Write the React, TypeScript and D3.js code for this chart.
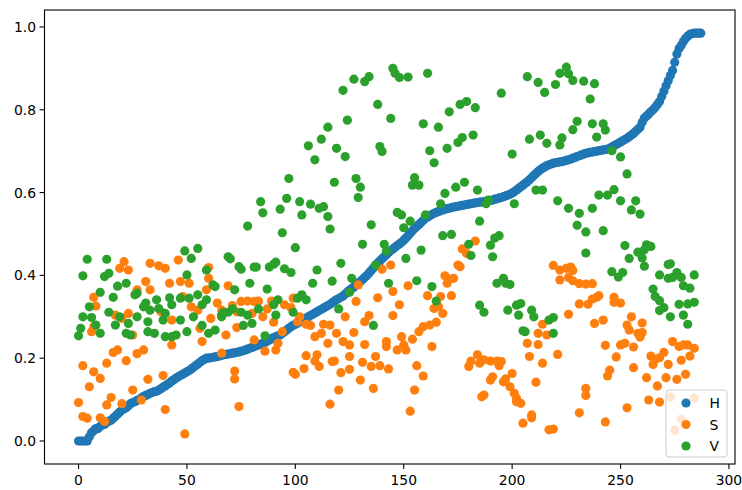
import React from "react";
import * as d3 from "d3";

// H value per sample index (0..287)
const hValues: number[] = [
  0, 0, 0, 0, 0, 0.01, 0.02, 0.025, 0.03, 0.03,
  0.035, 0.04, 0.04, 0.045, 0.048, 0.05, 0.055, 0.06, 0.065, 0.07,
  0.075, 0.078, 0.08, 0.085, 0.09, 0.093, 0.095, 0.098, 0.1, 0.104,
  0.108, 0.11, 0.112, 0.115, 0.117, 0.119, 0.12, 0.123, 0.126, 0.13,
  0.133, 0.137, 0.14, 0.145, 0.148, 0.152, 0.155, 0.158, 0.161, 0.164,
  0.167, 0.17, 0.174, 0.178, 0.182, 0.186, 0.19, 0.194, 0.197, 0.2,
  0.2, 0.201, 0.202, 0.203, 0.204, 0.205, 0.207, 0.208, 0.209, 0.21,
  0.211, 0.212, 0.213, 0.214, 0.215, 0.217, 0.218, 0.22, 0.222, 0.224,
  0.226, 0.228, 0.23, 0.232, 0.234, 0.236, 0.238, 0.241, 0.244, 0.247,
  0.25, 0.252, 0.254, 0.256, 0.26, 0.264, 0.268, 0.272, 0.276, 0.279,
  0.282, 0.285, 0.288, 0.291, 0.294, 0.297, 0.3, 0.303, 0.306, 0.309,
  0.312, 0.315, 0.318, 0.321, 0.324, 0.327, 0.33, 0.334, 0.338, 0.341,
  0.344, 0.347, 0.35, 0.355, 0.36, 0.364, 0.368, 0.372, 0.376, 0.38,
  0.385, 0.39, 0.395, 0.4, 0.406, 0.412, 0.418, 0.424, 0.43, 0.435,
  0.44, 0.445, 0.45, 0.455, 0.46, 0.464, 0.468, 0.472, 0.476, 0.48,
  0.485, 0.49, 0.496, 0.502, 0.508, 0.513, 0.518, 0.523, 0.528, 0.533,
  0.538, 0.541, 0.544, 0.547, 0.55, 0.552, 0.554, 0.556, 0.558, 0.56,
  0.561, 0.562, 0.564, 0.565, 0.566, 0.567, 0.568, 0.569, 0.57, 0.571,
  0.572, 0.573, 0.574, 0.575, 0.576, 0.577, 0.577, 0.578, 0.579, 0.58,
  0.581, 0.582, 0.584, 0.585, 0.587, 0.588, 0.59, 0.592, 0.594, 0.596,
  0.599, 0.602, 0.606, 0.61, 0.614, 0.618, 0.622, 0.626, 0.631, 0.636,
  0.641, 0.646, 0.651, 0.655, 0.659, 0.662, 0.665, 0.667, 0.669, 0.671,
  0.672, 0.673, 0.674, 0.675, 0.676, 0.678, 0.679, 0.681, 0.683, 0.685,
  0.687, 0.689, 0.691, 0.693, 0.695, 0.696, 0.697, 0.698, 0.699, 0.7,
  0.701, 0.702, 0.703, 0.704, 0.705, 0.707, 0.71, 0.713, 0.716, 0.719,
  0.722, 0.725, 0.728, 0.731, 0.735, 0.739, 0.743, 0.748, 0.753, 0.758,
  0.77, 0.78, 0.785, 0.79, 0.795, 0.8, 0.806, 0.813, 0.82, 0.832,
  0.845, 0.858, 0.87, 0.883, 0.895, 0.915, 0.935, 0.948, 0.955, 0.965,
  0.972, 0.978, 0.982, 0.984, 0.985, 0.985, 0.985, 0.985,
];

// S points: [sample index, value]
const sPoints: [number, number][] = [
  [21, .433], [19, .417], [23, .413], [33, .429], [37, .423], [40, .417], [46, .437], [60, .419], [60, .393], [31, .385],
  [33, .365], [42, .381], [47, .385], [51, .381], [59, .365], [7, .347], [8, .326], [27, .365], [48, .349], [52, .324],
  [55, .316], [64, .333], [66, .316], [61, .296], [23, .308], [17, .304], [20, .296], [43, .292], [38, .312], [6, .264],
  [7, .276], [25, .256], [43, .232], [57, .240], [56, .272], [16, .214], [18, .220], [27, .211], [30, .220], [22, .194],
  [13, .188], [2, .182], [7, .167], [10, .151], [5, .131], [32, .149], [39, .158], [25, .123], [15, .105], [13, .087],
  [20, .090], [29, .099], [0, .093], [2, .059], [4, .055], [10, .056], [12, .047], [40, .076], [49, .017], [66, .212],
  [69, .375], [71, .327], [75, .337], [78, .338], [81, .337], [83, .338], [89, .338], [95, .329], [87, .319], [80, .308],
  [73, .312], [85, .300], [90, .287], [98, .322], [99, .345], [102, .300], [101, .288], [105, .282], [107, .279], [113, .282],
  [116, .280], [109, .252], [112, .260], [115, .236], [119, .260], [122, .240], [125, .232], [127, .262], [128, .337], [129, .377],
  [138, .346], [132, .288], [134, .303], [123, .300], [140, .415], [145, .303], [142, .240], [142, .228], [132, .233], [68, .256],
  [73, .274], [81, .244], [86, .217], [91, .220], [92, .236], [94, .264], [105, .206], [110, .208], [109, .193], [111, .180],
  [104, .175], [99, .166], [100, .161], [117, .192], [118, .193], [125, .204], [121, .165], [125, .173], [130, .147], [131, .190],
  [135, .180], [137, .204], [139, .182], [143, .174], [136, .127], [120, .123], [116, .089], [72, .169], [72, .150], [74, .083],
  [183, .483], [177, .464], [179, .453], [175, .425], [176, .421], [144, .425], [169, .399], [171, .391], [173, .393], [170, .381],
  [152, .375], [145, .361], [161, .351], [167, .349], [172, .351], [164, .320], [166, .325], [168, .308], [148, .329], [165, .287],
  [162, .280], [159, .276], [157, .264], [154, .246], [149, .252], [150, .232], [151, .220], [147, .220], [163, .228], [156, .182],
  [159, .157], [155, .123], [153, .072], [180, .180], [181, .193], [184, .208], [185, .188], [187, .196], [190, .193], [193, .193],
  [195, .192], [194, .182], [191, .155], [190, .147], [187, .111], [186, .107], [197, .150], [196, .143], [200, .163], [199, .131],
  [201, .115], [202, .103], [204, .091], [202, .095], [209, .063], [209, .056], [205, .043], [217, .027], [219, .029], [211, .142],
  [214, .188], [208, .204], [207, .236], [212, .233], [212, .260], [216, .256], [214, .282], [221, .209], [219, .424], [222, .413],
  [222, .389], [225, .417], [227, .420], [228, .412], [226, .395], [228, .387], [231, .380], [234, .379], [237, .380], [231, .331],
  [235, .330], [237, .343], [240, .351], [239, .347], [247, .347], [247, .335], [250, .333], [226, .306], [238, .284], [242, .292],
  [253, .280], [255, .300], [260, .285], [254, .268], [258, .260], [260, .262], [259, .251], [243, .231], [250, .232], [252, .236],
  [256, .227], [248, .203], [256, .177], [245, .171], [244, .157], [262, .153], [264, .205], [266, .197], [265, .185], [268, .201],
  [270, .214], [272, .185], [274, .240], [277, .228], [279, .232], [281, .232], [284, .224], [282, .205], [278, .195], [276, .149],
  [271, .153], [280, .161], [267, .133], [234, .127], [234, .110], [253, .080], [263, .099], [268, .094], [273, .106], [278, .053],
  [275, .026], [231, .068], [243, .046], [284, .104],
];

// V points: [sample index, value]
const vPoints: [number, number][] = [
  [4, .439], [13, .439], [2, .399], [12, .397], [14, .405], [18, .374], [22, .381], [10, .359], [16, .347], [5, .324],
  [2, .300], [1, .272], [0, .254], [6, .298], [8, .280], [10, .260], [14, .311], [17, .280], [19, .300], [22, .260],
  [24, .256], [23, .284], [26, .353], [27, .357], [27, .300], [30, .324], [31, .333], [33, .316], [36, .341], [37, .320],
  [40, .308], [39, .292], [42, .346], [43, .329], [32, .288], [32, .264], [35, .260], [40, .252], [43, .252], [45, .256],
  [47, .292], [47, .345], [51, .345], [50, .264], [55, .353], [57, .329], [59, .341], [53, .300], [57, .279], [60, .260],
  [63, .268], [66, .304], [62, .377], [63, .373], [59, .413], [50, .401], [52, .441], [49, .459], [55, .465],
  [94, .503], [69, .445], [70, .440], [74, .421], [75, .415], [81, .420], [82, .420], [88, .420], [90, .427], [91, .432],
  [95, .416], [98, .407], [100, .467], [110, .413], [121, .429], [131, .475], [141, .475], [142, .459], [137, .425], [72, .365],
  [79, .381], [87, .367], [108, .381], [117, .386], [126, .393], [125, .359], [143, .381], [83, .319], [92, .341], [90, .329],
  [99, .311], [103, .353], [101, .345], [105, .341], [67, .311], [66, .300], [69, .311], [71, .319], [75, .311], [78, .304],
  [76, .279], [80, .284], [91, .304], [86, .254], [120, .319], [136, .279],
  [78, .519], [85, .551], [84, .578], [93, .560], [96, .586], [102, .578], [103, .546], [107, .572], [111, .562], [113, .566],
  [115, .542], [116, .512], [97, .634], [109, .679], [106, .713], [112, .729], [115, .758], [119, .707], [123, .687], [118, .625],
  [128, .634], [130, .613], [129, .588], [135, .522], [124, .775], [122, .847], [127, .874], [132, .868], [134, .880], [138, .813],
  [144, .779], [139, .711], [140, .699],
  [145, .900], [146, .888], [148, .878], [152, .879], [161, .888], [159, .766], [166, .758], [171, .795], [176, .813], [179, .820],
  [183, .805], [182, .739], [177, .733], [175, .721], [170, .707], [162, .701], [164, .672], [155, .636], [154, .618], [157, .618],
  [169, .598], [174, .613], [178, .625], [184, .606], [189, .582], [188, .573], [167, .573], [160, .546], [147, .552], [149, .546],
  [153, .531], [150, .515], [185, .531], [207, .880], [212, .866], [215, .842], [220, .861], [222, .888], [195, .840], [200, .693],
  [208, .729], [213, .739], [216, .719], [222, .715], [211, .606], [214, .606], [221, .580], [201, .573], [168, .496], [172, .499],
  [194, .496], [192, .490],
  [180, .475], [181, .448], [190, .473], [191, .445], [158, .461], [151, .441], [156, .387], [163, .373], [165, .338], [193, .381],
  [197, .381], [196, .393], [199, .378], [185, .328], [187, .311], [198, .316], [202, .328], [204, .332], [203, .304], [209, .316],
  [210, .300], [217, .292], [219, .298], [219, .260], [205, .266], [206, .264],
  [225, .903], [226, .887], [228, .871], [233, .869], [238, .863], [236, .826], [230, .772], [228, .752], [223, .732], [237, .766],
  [242, .766], [243, .751], [239, .734], [246, .701], [250, .686], [253, .645], [226, .562], [231, .550], [237, .562], [240, .594],
  [244, .594], [247, .607], [250, .580], [257, .580], [255, .558], [259, .548], [230, .521], [234, .505], [242, .508],
  [234, .454], [252, .472], [254, .441], [258, .456], [261, .462], [262, .474], [264, .470], [260, .442], [261, .422], [246, .409],
  [249, .396], [251, .407], [268, .401], [272, .426], [273, .428], [272, .393], [274, .395], [276, .407], [278, .395], [279, .375],
  [282, .369], [284, .401], [265, .367], [266, .349], [268, .339], [268, .315], [270, .322], [273, .300], [277, .330], [279, .304],
  [281, .282], [281, .331], [284, .335],
];

const xTicks = [0, 50, 100, 150, 200, 250, 300];
const yTicks = [0.0, 0.2, 0.4, 0.6, 0.8, 1.0];
const seriesNames = ["H", "S", "V"];
const seriesColors = ["#1f77b4", "#ff7f0e", "#2ca02c"];

const W = 742;
const H = 490;
const left = 44.5;
const right = 735;
const top = 10;
const bottom = 464;
const FONT = "DejaVu Sans, sans-serif";
const FS = 13.9;
const R = 4.6;

export default function App() {
  const x = d3.scaleLinear().domain([-15.7, 302.8]).range([left, right]);
  const y = d3.scaleLinear().domain([-0.0556, 1.041]).range([bottom, top]);

  const hPts: [number, number][] = hValues.map((v, i) => [i, v]);
  const series: [number, number][][] = [hPts, sPoints, vPoints];

  const legX = 666;
  const legY = 390;
  const legW = 61;
  const legH = 67;
  const rowY = [403, 424.5, 446];

  return (
    <svg
      width={W}
      height={H}
      style={{ position: "fixed", left: 0, top: 0, background: "#fff" }}
      fontFamily={FONT}
    >
      <rect x={0} y={0} width={W} height={H} fill="#fff" />
      {series.map((pts, si) => (
        <g key={si} fill={seriesColors[si]}>
          {pts.map((p, k) => (
            <circle key={k} cx={x(p[0])} cy={y(p[1])} r={R} />
          ))}
        </g>
      ))}
      {/* frame */}
      <rect x={left} y={top} width={right - left} height={bottom - top} fill="none" stroke="#000" strokeWidth={1.1} />
      {/* x ticks */}
      {xTicks.map((t) => (
        <g key={"x" + t}>
          <line x1={x(t)} x2={x(t)} y1={bottom} y2={bottom + 4.9} stroke="#000" strokeWidth={1.1} />
          <text x={x(t)} y={bottom + 20.5} fontSize={FS} textAnchor="middle" fill="#000">
            {String(t)}
          </text>
        </g>
      ))}
      {/* y ticks */}
      {yTicks.map((t) => (
        <g key={"y" + t}>
          <line x1={left - 4.9} x2={left} y1={y(t)} y2={y(t)} stroke="#000" strokeWidth={1.1} />
          <text x={left - 8.5} y={y(t)} dy="0.36em" fontSize={FS} textAnchor="end" fill="#000">
            {t.toFixed(1)}
          </text>
        </g>
      ))}
      {/* legend */}
      <rect x={legX} y={legY} width={legW} height={legH} rx={3} ry={3} fill="#fff" fillOpacity={0.8} stroke="#cccccc" strokeWidth={1} />
      {seriesNames.map((n, i) => (
        <g key={n}>
          <circle cx={686} cy={rowY[i]} r={R} fill={seriesColors[i]} />
          <text x={709.5} y={rowY[i]} dy="0.36em" fontSize={FS} fill="#000">
            {n}
          </text>
        </g>
      ))}
    </svg>
  );
}
